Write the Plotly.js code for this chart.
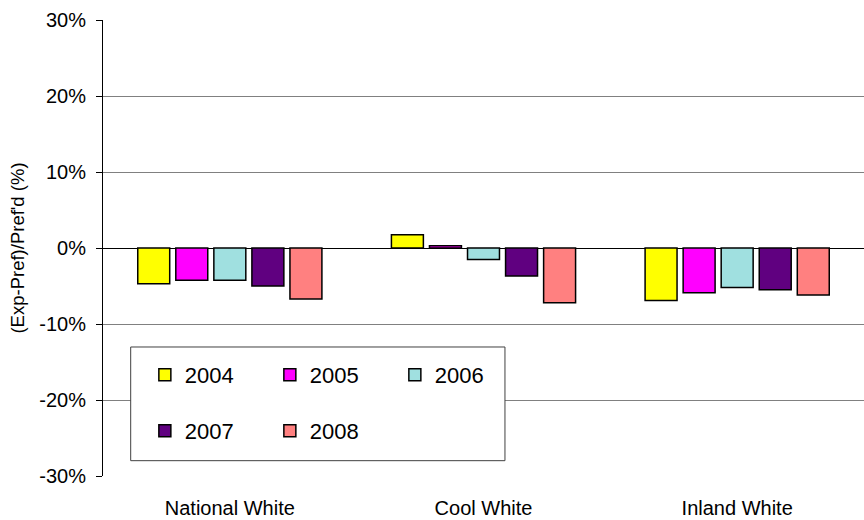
<!DOCTYPE html>
<html>
<head>
<meta charset="utf-8">
<script src="https://cdn.plot.ly/plotly-3.0.1.min.js"></script>
<style>html,body{margin:0;padding:0;background:#fff;}#chart{width:864px;height:520px;}</style>
</head>
<body>
<div id="chart"></div>
<script>
const categories = ["National White", "Cool White", "Inland White"];
const years = ["2004", "2005", "2006", "2007", "2008"];
const v2004 = [-0.047, 0.0175, -0.069];
const v2005 = [-0.0425, 0.003, -0.059];
const v2006 = [-0.0425, -0.015, -0.052];
const v2007 = [-0.050, -0.037, -0.055];
const v2008 = [-0.067, -0.072, -0.062];
const seriesValues = [v2004, v2005, v2006, v2007, v2008];
const colors = ["#FFFF00", "#FF00FF", "#A0E0E0", "#600080", "#FF8080"];
const yTickVals = [-0.3, -0.2, -0.1, 0, 0.1, 0.2, 0.3];
const yTickText = ["-30%", "-20%", "-10%", "0%", "10%", "20%", "30%"];

const FONT = "Liberation Sans, Arial, sans-serif";

const traces = years.map((y, i) => ({
  type: "bar",
  name: y,
  x: categories,
  y: seriesValues[i],
  marker: {color: colors[i], line: {color: "#000000", width: 1.5}},
  legend: i < 3 ? "legend" : "legend2",
  hoverinfo: "x+y+name"
}));

const legendCommon = {
  orientation: "h",
  bgcolor: "rgba(0,0,0,0)",
  borderwidth: 0,
  font: {family: FONT, size: 22, color: "#000"},
  entrywidth: 80,
  entrywidthmode: "pixels",
  xanchor: "left",
  yanchor: "middle",
  traceorder: "normal"
};

const layout = {
  width: 864,
  height: 520,
  margin: {l: 103, r: 0, t: 20, b: 44},
  paper_bgcolor: "#ffffff",
  plot_bgcolor: "#ffffff",
  font: {family: FONT, color: "#000"},
  barmode: "group",
  bargap: 0.25,
  bargroupgap: 0.16,
  showlegend: true,
  legend: Object.assign({}, legendCommon, {x: 0.055, y: 0.2215}),
  legend2: Object.assign({}, legendCommon, {x: 0.055, y: 0.0987}),
  xaxis: {
    type: "category",
    showgrid: false,
    zeroline: false,
    showline: false,
    ticks: "outside",
    ticklen: 14,
    tickcolor: "rgba(0,0,0,0)",
    tickfont: {size: 20, family: FONT},
    fixedrange: true
  },
  yaxis: {
    range: [-0.3, 0.3],
    tickvals: yTickVals,
    ticktext: yTickText,
    showgrid: true,
    gridcolor: "#808080",
    gridwidth: 1,
    zeroline: true,
    zerolinecolor: "#000000",
    zerolinewidth: 1,
    showline: true,
    linecolor: "#000000",
    linewidth: 1,
    ticks: "outside",
    ticklen: 6,
    tickcolor: "#000000",
    ticklabelstandoff: 6,
    tickfont: {size: 20, family: FONT},
    title: {text: "(Exp-Pref)/Pref'd (%)", font: {size: 18.5, family: FONT}, standoff: 9},
    automargin: false,
    fixedrange: true
  },
  shapes: [{
    type: "rect", xref: "paper", yref: "paper",
    x0: 0.0364, x1: 0.5282, y0: 0.0336, y1: 0.2829,
    line: {color: "#404040", width: 1},
    fillcolor: "#ffffff",
    layer: "above"
  }]
};

Plotly.newPlot("chart", traces, layout, {displayModeBar: false, staticPlot: true});
</script>
</body>
</html>
